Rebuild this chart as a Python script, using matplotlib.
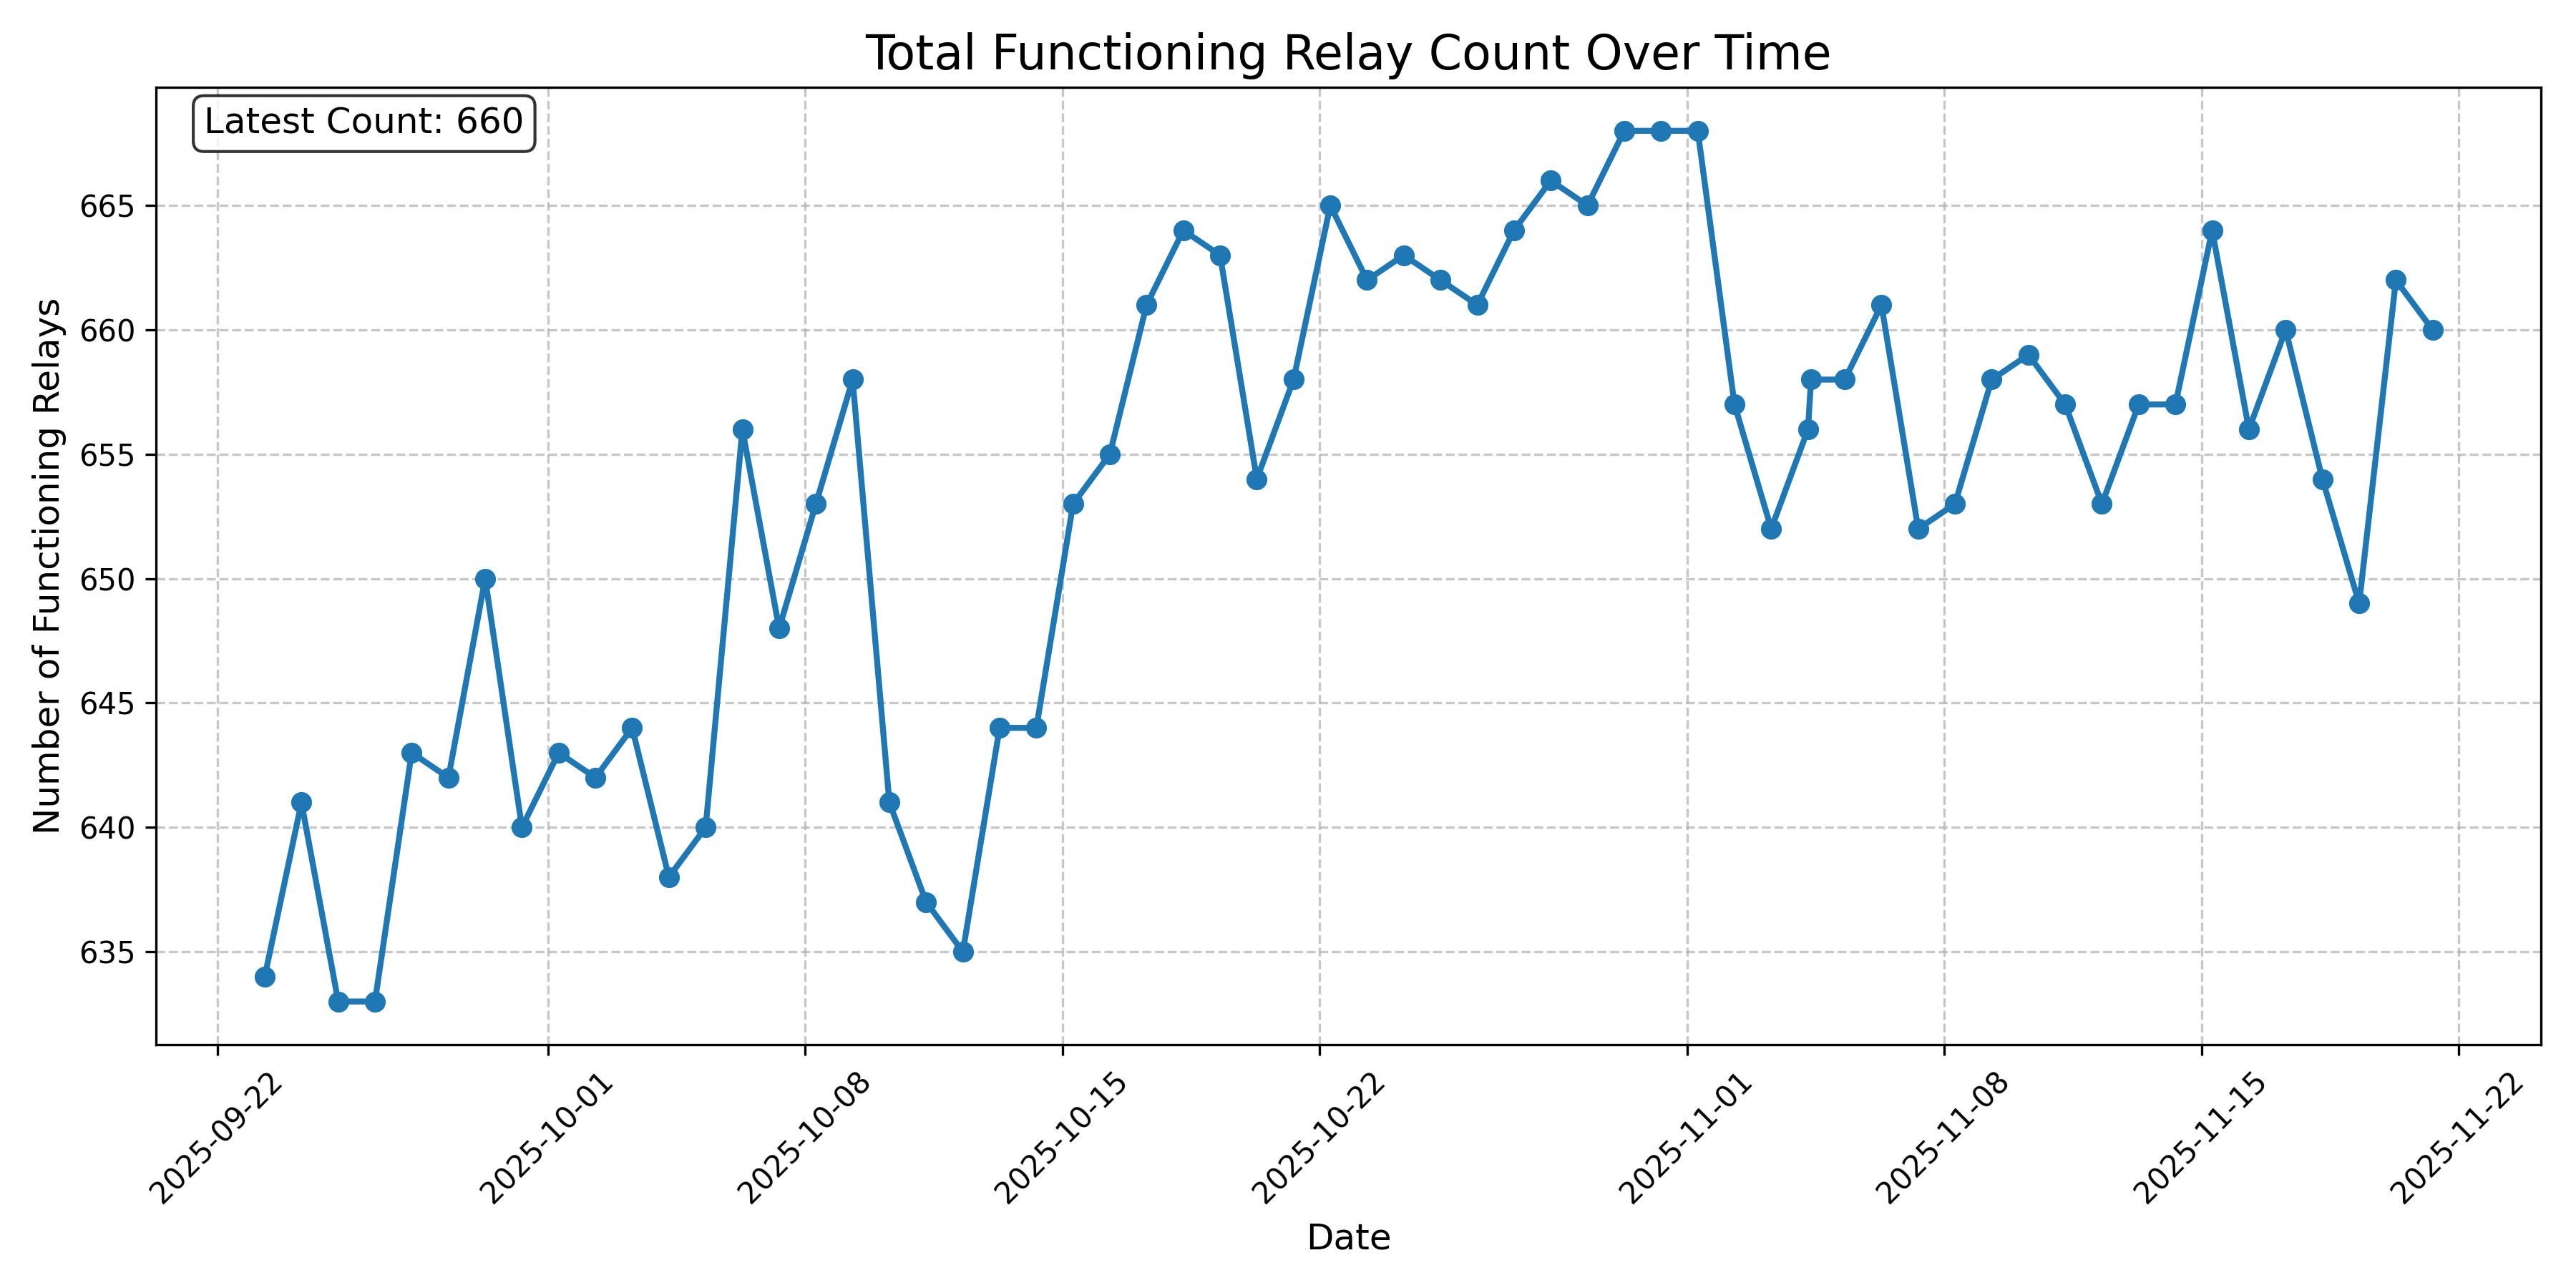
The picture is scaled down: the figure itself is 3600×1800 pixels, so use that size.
import pandas as pd
import matplotlib
matplotlib.use('Agg')
import matplotlib.pyplot as plt
import matplotlib.dates as mdates

# Daily relay counts (plus one extra reading on 2025-11-04)
dates = [
    '2025-09-23 07:00', '2025-09-24 07:00', '2025-09-25 07:00', '2025-09-26 07:00',
    '2025-09-27 07:00', '2025-09-28 07:00', '2025-09-29 07:00', '2025-09-30 07:00',
    '2025-10-01 07:00', '2025-10-02 07:00', '2025-10-03 07:00', '2025-10-04 07:00',
    '2025-10-05 07:00', '2025-10-06 07:00', '2025-10-07 07:00', '2025-10-08 07:00',
    '2025-10-09 07:00', '2025-10-10 07:00', '2025-10-11 07:00', '2025-10-12 07:00',
    '2025-10-13 07:00', '2025-10-14 07:00', '2025-10-15 07:00', '2025-10-16 07:00',
    '2025-10-17 07:00', '2025-10-18 07:00', '2025-10-19 07:00', '2025-10-20 07:00',
    '2025-10-21 07:00', '2025-10-22 07:00', '2025-10-23 07:00', '2025-10-24 07:00',
    '2025-10-25 07:00', '2025-10-26 07:00', '2025-10-27 07:00', '2025-10-28 07:00',
    '2025-10-29 07:00', '2025-10-30 07:00', '2025-10-31 07:00', '2025-11-01 07:00',
    '2025-11-02 07:00', '2025-11-03 07:00', '2025-11-04 07:00', '2025-11-04 09:00',
    '2025-11-05 07:00', '2025-11-06 07:00', '2025-11-07 07:00', '2025-11-08 07:00',
    '2025-11-09 07:00', '2025-11-10 07:00', '2025-11-11 07:00', '2025-11-12 07:00',
    '2025-11-13 07:00', '2025-11-14 07:00', '2025-11-15 07:00', '2025-11-16 07:00',
    '2025-11-17 07:00', '2025-11-18 07:00', '2025-11-19 07:00', '2025-11-20 07:00',
    '2025-11-21 07:00',
]
counts = [
    634, 641, 633, 633, 643, 642, 650, 640,
    643, 642, 644, 638, 640, 656, 648, 653,
    658, 641, 637, 635, 644, 644, 653, 655,
    661, 664, 663, 654, 658, 665, 662, 663,
    662, 661, 664, 666, 665, 668, 668, 668,
    657, 652, 656, 658, 658, 661, 652, 653,
    658, 659, 657, 653, 657, 657, 664, 656,
    660, 654, 649, 662, 660,
]

df = pd.DataFrame({'date': pd.to_datetime(dates), 'count': counts})

fig, ax = plt.subplots(figsize=(12, 6), dpi=300)
ax.plot(df['date'], df['count'], marker='o', linewidth=2, markersize=6, color='#1f77b4')

ax.set_title('Total Functioning Relay Count Over Time', fontsize=16)
ax.set_xlabel('Date', fontsize=12)
ax.set_ylabel('Number of Functioning Relays', fontsize=12)
ax.grid(True, linestyle='--', alpha=0.7)

ax.xaxis.set_major_formatter(mdates.DateFormatter('%Y-%m-%d'))
plt.setp(ax.get_xticklabels(), rotation=45)

ax.text(0.02, 0.98, f'Latest Count: {counts[-1]}', transform=ax.transAxes,
        fontsize=12, verticalalignment='top',
        bbox=dict(boxstyle='round', facecolor='white', alpha=0.8))

plt.tight_layout()
plt.savefig('out.png')
